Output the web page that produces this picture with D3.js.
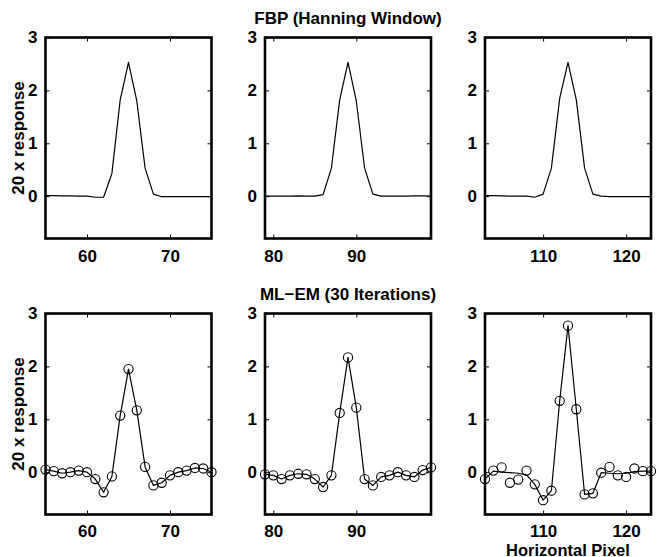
<!DOCTYPE html>
<html>
<head>
<meta charset="utf-8">
<script src="https://cdn.jsdelivr.net/npm/d3@7"></script>
<style>
  html, body { margin: 0; padding: 0; background: #fff; }
  svg text { font-family: "Liberation Sans", Arial, Helvetica, sans-serif; font-weight: bold; fill: #000; }
</style>
</head>
<body>
<svg id="chart" width="659" height="557"></svg>
<script>
// Horizontal pixel indices shown in each column
const pixels1 = [55,56,57,58,59,60,61,62,63,64,65,66,67,68,69,70,71,72,73,74,75];
const pixels2 = [79,80,81,82,83,84,85,86,87,88,89,90,91,92,93,94,95,96,97,98,99];
const pixels3 = [103,104,105,106,107,108,109,110,111,112,113,114,115,116,117,118,119,120,121,122,123];

// FBP (Hanning window) responses, scaled by 20
const fbp1 = [0.01,0.01,0.005,0.005,0.0,0.0,-0.02,-0.02,0.43,1.82,2.53,1.80,0.53,0.04,-0.01,-0.01,-0.01,-0.01,-0.01,-0.01,-0.01];
const fbp2 = [0.0,0.0,0.0,0.0,0.005,0.0,0.0,0.03,0.53,1.82,2.53,1.80,0.53,0.04,0.0,0.0,0.0,0.0,0.005,0.005,0.0];
const fbp3 = [0.01,0.01,0.005,0.0,0.0,0.0,-0.02,0.04,0.53,1.85,2.53,1.82,0.53,0.04,0.0,-0.01,-0.01,-0.01,-0.01,-0.01,-0.01];

// ML-EM (30 iterations) responses, scaled by 20: curve and markers
const mlem1 = [0.05,0.02,-0.02,0.0,0.03,0.0,-0.13,-0.38,-0.08,1.07,1.95,1.17,0.10,-0.25,-0.20,-0.06,0.0,0.03,0.08,0.07,0.0];
const mlem2 = [-0.04,-0.06,-0.13,-0.06,-0.03,-0.04,-0.13,-0.28,-0.06,1.12,2.17,1.22,-0.13,-0.25,-0.09,-0.06,0.0,-0.06,-0.09,0.04,0.09];
const mlem3Line = [-0.13,0.02,0.0,-0.01,-0.02,-0.05,-0.23,-0.53,-0.35,1.35,2.77,1.19,-0.42,-0.40,-0.01,-0.02,-0.03,-0.02,0.01,0.02,0.02];
const mlem3Marks = [-0.13,0.03,0.09,-0.20,-0.14,0.03,-0.23,-0.53,-0.35,1.35,2.77,1.19,-0.42,-0.40,-0.01,0.10,-0.06,-0.09,0.07,0.02,0.02];

// Axis settings
const xDomains = [[55,75],[79,99],[103,123]];
const xTicks = [[60,70],[80,90],[110,120]];
const yDomain = [-0.8, 3];
const yTicks = [0,1,2,3];

const rowTitles = ["FBP (Hanning Window)", "ML\u2212EM (30 Iterations)"];
const yLabel = "20 x response";
const xLabel = "Horizontal Pixel";

const svg = d3.select("#chart");

const colLeft = [45.5, 265, 485];
const panelW = 166;
const rowTop = [37.5, 313.5];
const panelH = 201;
const fontSize = 17;

const panels = [
  {row:0, col:0, px:pixels1, line:fbp1, marks:null},
  {row:0, col:1, px:pixels2, line:fbp2, marks:null},
  {row:0, col:2, px:pixels3, line:fbp3, marks:null},
  {row:1, col:0, px:pixels1, line:mlem1, marks:mlem1},
  {row:1, col:1, px:pixels2, line:mlem2, marks:mlem2},
  {row:1, col:2, px:pixels3, line:mlem3Line, marks:mlem3Marks}
];

panels.forEach(p => {
  const x0 = colLeft[p.col], y0 = rowTop[p.row];
  const x = d3.scaleLinear().domain(xDomains[p.col]).range([x0, x0 + panelW]);
  const y = d3.scaleLinear().domain(yDomain).range([y0 + panelH, y0]);
  const g = svg.append("g");

  const clipId = "clip" + p.row + p.col;
  svg.append("clipPath").attr("id", clipId)
    .append("rect").attr("x", x0).attr("y", y0).attr("width", panelW).attr("height", panelH);

  // inward ticks on all four sides
  const axB = g.append("g").attr("transform", `translate(0,${y0 + panelH})`)
    .call(d3.axisBottom(x).tickValues(xTicks[p.col]).tickSize(-4)
      .tickPadding(p.row === 0 ? 11 : 10).tickFormat(d3.format("d")));
  const axT = g.append("g").attr("transform", `translate(0,${y0})`)
    .call(d3.axisTop(x).tickValues(xTicks[p.col]).tickSize(-4).tickFormat(""));
  const axL = g.append("g").attr("transform", `translate(${x0},0)`)
    .call(d3.axisLeft(y).tickValues(yTicks).tickSize(-4).tickPadding(8).tickFormat(d3.format("d")));
  const axR = g.append("g").attr("transform", `translate(${x0 + panelW},0)`)
    .call(d3.axisRight(y).tickValues(yTicks).tickSize(-4).tickFormat(""));
  [axB, axT, axL, axR].forEach(a => {
    a.select(".domain").remove();
    a.selectAll(".tick line").attr("stroke", "#000").attr("stroke-width", 1);
    a.selectAll("text").attr("font-size", fontSize).style("font-family", null);
  });
  axB.selectAll("text").attr("dy", "0.71em");

  // data curve
  const lineGen = d3.line().x((d, i) => x(p.px[i])).y(d => y(d));
  g.append("path")
    .datum(p.line)
    .attr("clip-path", `url(#${clipId})`)
    .attr("fill", "none").attr("stroke", "#000").attr("stroke-width", 1.2)
    .attr("stroke-linejoin", "round")
    .attr("d", lineGen);

  if (p.marks) {
    g.append("g").selectAll("circle").data(p.marks).join("circle")
      .attr("cx", (d, i) => x(p.px[i])).attr("cy", d => y(d)).attr("r", 4.6)
      .attr("fill", "none").attr("stroke", "#000").attr("stroke-width", 1.1);
  }

  // frame
  g.append("rect").attr("x", x0).attr("y", y0).attr("width", panelW).attr("height", panelH)
    .attr("fill", "none").attr("stroke", "#000").attr("stroke-width", 2.6);

  if (p.col === 0) {
    svg.append("text")
      .attr("transform", `translate(24,${y0 + panelH / 2}) rotate(-90)`)
      .attr("text-anchor", "middle").attr("font-size", fontSize)
      .text(yLabel);
  }
});

// row titles over the middle column
rowTitles.forEach((t, r) => {
  svg.append("text")
    .attr("x", colLeft[1] + panelW / 2)
    .attr("y", r === 0 ? 23.5 : 300)
    .attr("text-anchor", "middle").attr("font-size", fontSize)
    .text(t);
});

svg.append("text")
  .attr("x", colLeft[2] + panelW / 2).attr("y", 555.5)
  .attr("text-anchor", "middle").attr("font-size", 16.5)
  .text(xLabel);
</script>
</body>
</html>
